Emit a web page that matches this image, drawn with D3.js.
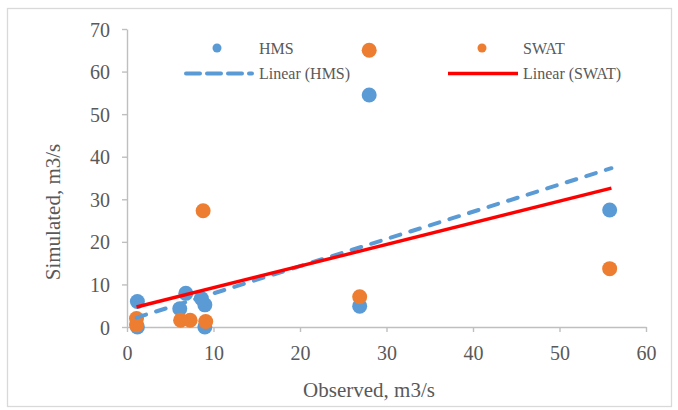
<!DOCTYPE html>
<html>
<head>
<meta charset="utf-8">
<script src="https://cdn.jsdelivr.net/npm/d3@7"></script>
<style>
  body { margin: 0; background: #fff; }
  svg text { font-family: "Liberation Serif", "Times New Roman", serif; fill: #595959; }
  .axis path, .axis line { stroke: #bfbfbf; stroke-width: 1.4; }
</style>
</head>
<body>
<div class="chartWrap"></div>
<script>
//Data
const hmsObs  = [1.2, 1.2, 6.1, 6.8, 8.6, 9.0, 9.0, 26.9, 28.0, 55.8];
const hmsSim  = [6.0, 0.0, 4.3, 7.9, 6.7, 5.2, 0.0, 4.9, 54.5, 27.5];
const swatObs = [1.1, 1.1, 6.2, 7.3, 9.1, 8.8, 26.9, 28.0, 55.8];
const swatSim = [2.0, 0.5, 1.6, 1.6, 1.3, 27.3, 7.1, 65.0, 13.7];
//Linear trendlines (Excel), ends
const trendX    = [1.1, 56.0];
const hmsTrend  = [2.2, 37.3];
const swatTrend = [4.7, 32.6];
const xTicks = [0, 10, 20, 30, 40, 50, 60];
const yTicks = [0, 10, 20, 30, 40, 50, 60, 70];

const width = 678, height = 410;
const blue = "#5b9bd5", orange = "#ed7d31", red = "#ff0000";
const serif = '"Liberation Serif", "Times New Roman", serif';

let svg = d3.select(".chartWrap").append("svg").attr("width", width).attr("height", height);

//Outer chart border
svg.append("rect").attr("x", 7.5).attr("y", 8.5).attr("width", 664).attr("height", 398)
  .attr("fill", "none").attr("stroke", "#d9d9d9").attr("stroke-width", 1.3);

let x = d3.scaleLinear().domain([0, 60]).range([127, 646]);
let y = d3.scaleLinear().domain([0, 70]).range([327, 29]);

//Axes
let gx = svg.append("g").attr("class", "axis")
  .attr("transform", "translate(0," + y(0) + ")")
  .call(d3.axisBottom(x).tickValues(xTicks).tickSize(5).tickSizeOuter(0));
gx.attr("font-family", serif).attr("font-size", 20);
gx.selectAll("text").attr("y", 33).attr("dy", 0);

let gy = svg.append("g").attr("class", "axis")
  .attr("transform", "translate(" + x(0) + ",0)")
  .call(d3.axisLeft(y).tickValues(yTicks).tickSize(5).tickSizeOuter(0));
gy.attr("font-family", serif).attr("font-size", 20);
gy.selectAll("text").attr("x", -17).attr("dy", "0.35em");
svg.selectAll(".axis text").attr("fill", null).style("fill", "#595959").style("font-family", serif);

//Axis titles
svg.append("text").text("Observed, m3/s")
  .attr("x", 369).attr("y", 397).attr("text-anchor", "middle").attr("font-size", 21);
svg.append("text").text("Simulated, m3/s")
  .attr("transform", "translate(60,212) rotate(-90)")
  .attr("text-anchor", "middle").attr("font-size", 21);

//Points
let hms = hmsObs.map((d, i) => [d, hmsSim[i]]);
let swat = swatObs.map((d, i) => [d, swatSim[i]]);
svg.append("g").selectAll("circle").data(hms).enter().append("circle")
  .attr("cx", d => x(d[0])).attr("cy", d => y(d[1])).attr("r", 7.5).attr("fill", blue);
svg.append("g").selectAll("circle").data(swat).enter().append("circle")
  .attr("cx", d => x(d[0])).attr("cy", d => y(d[1])).attr("r", 7.5).attr("fill", orange);

//Trendlines
let line = d3.line().x(d => x(d[0])).y(d => y(d[1]));
svg.append("path").datum(trendX.map((d, i) => [d, hmsTrend[i]]))
  .attr("d", line).attr("fill", "none").attr("stroke", blue).attr("stroke-width", 4)
  .attr("stroke-dasharray", "10,10.5").attr("stroke-linecap", "round");
svg.append("path").datum(trendX.map((d, i) => [d, swatTrend[i]]))
  .attr("d", line).attr("fill", "none").attr("stroke", red).attr("stroke-width", 3.4);

//Legend
let legend = svg.append("g").attr("font-size", 16);
legend.append("circle").attr("cx", 217).attr("cy", 48).attr("r", 4.5).attr("fill", blue);
legend.append("text").text("HMS").attr("x", 259).attr("y", 54);
legend.append("circle").attr("cx", 482).attr("cy", 48).attr("r", 4.5).attr("fill", orange);
legend.append("text").text("SWAT").attr("x", 523).attr("y", 54);
legend.append("line").attr("x1", 186).attr("x2", 252).attr("y1", 73.5).attr("y2", 73.5)
  .attr("stroke", blue).attr("stroke-width", 4).attr("stroke-dasharray", "14,7")
  .attr("stroke-linecap", "round");
legend.append("text").text("Linear (HMS)").attr("x", 259).attr("y", 79);
legend.append("line").attr("x1", 448).attr("x2", 518).attr("y1", 73.5).attr("y2", 73.5)
  .attr("stroke", red).attr("stroke-width", 3.4);
legend.append("text").text("Linear (SWAT)").attr("x", 523).attr("y", 79);
</script>
</body>
</html>
